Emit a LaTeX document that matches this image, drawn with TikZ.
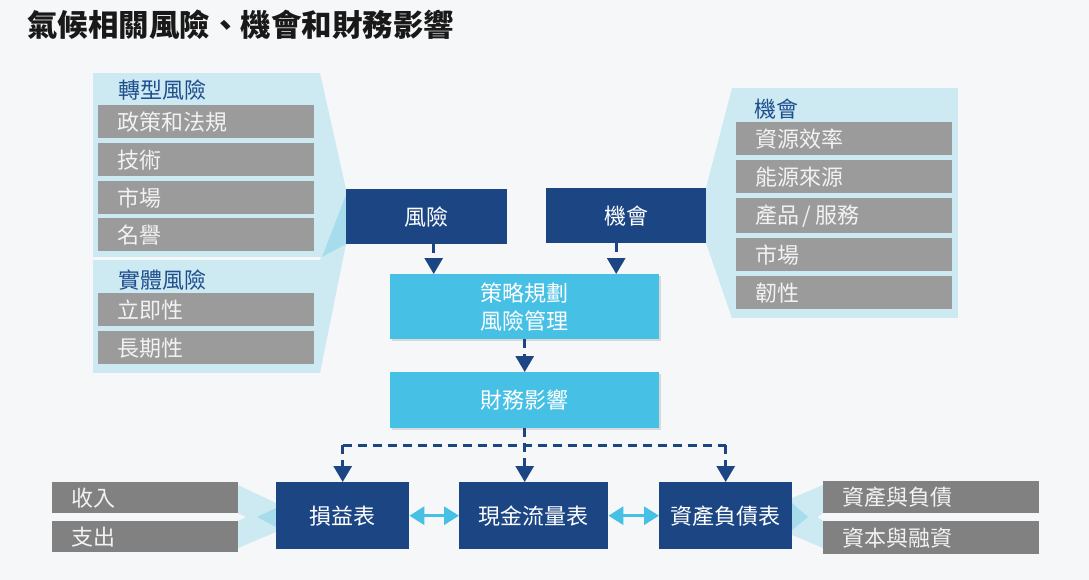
\documentclass[tikz,border=0pt]{standalone}
\usepackage{fontspec}
\setmainfont{Noto Sans CJK TC}
\usetikzlibrary{arrows.meta,shadows,calc}
\definecolor{bg}{HTML}{F6F7F9}
\definecolor{pale}{HTML}{CDEAF3}
\definecolor{paledk}{HTML}{A6DCEB}
\definecolor{navy}{HTML}{1C4584}
\definecolor{sky}{HTML}{46C0E5}
\definecolor{gbar}{HTML}{9B9B9B}
\definecolor{gbardk}{HTML}{808180}
\definecolor{lbl}{HTML}{1F4E8E}
\definecolor{btxt}{HTML}{F2F2F2}
\begin{document}
\begin{tikzpicture}[x=1pt,y=-1pt,
  every node/.style={font=\fontsize{22}{28}\selectfont},
  bar/.style={fill=gbar, text=btxt, anchor=north west, inner xsep=19pt, inner ysep=0pt,
    text width=178pt, minimum height=33pt, align=left},
  barb/.style={bar, fill=gbardk, text width=148pt},
  barc/.style={bar, fill=gbardk},
  tag/.style={text=lbl, anchor=west, inner sep=0pt},
  navybox/.style={fill=navy, text=white, anchor=north west, inner sep=0pt, align=center},
  skybox/.style={fill=sky, text=white, anchor=north west, inner sep=0pt, align=center,
    drop shadow={opacity=0.25, shadow xshift=2pt, shadow yshift=-2pt}},
  darr/.style={navy, line width=3pt, dash pattern=on 9pt off 6pt, -{Triangle[width=18pt,length=16pt]}},
  dline/.style={navy, line width=3pt, dash pattern=on 9pt off 6pt},
  carr/.style={sky, line width=3pt, {Triangle[width=18pt,length=15pt]}-{Triangle[width=18pt,length=15pt]}}
]
\fill[bg] (0,0) rectangle (1089,580);
\useasboundingbox (0,0) rectangle (1089,580);

% title
\node[anchor=west, inner sep=0pt, font=\fontsize{30.5}{36}\selectfont\bfseries, text=black!90] (title) at (27,25) {氣候相關風險、機會和財務影響};

% left panels and funnels
\fill[pale] (93,73) rectangle (320,257);
\fill[pale] (93,260) rectangle (320,373);
\fill[pale] (320,73) -- (346,189) -- (346,244) -- (322,257) -- (320,257) -- cycle;
\fill[pale] (320,260) -- (346,195) -- (346,244) -- (320,373) -- cycle;
\fill[paledk] (322,257) -- (346,195) -- (346,244) -- cycle;

% right panel and funnel
\fill[pale] (732,88) rectangle (958,318);
\fill[pale] (732,88) -- (706,188) -- (706,243) -- (732,318) -- cycle;

% bottom funnels
\fill[pale] (238,485) -- (276,503) -- (276,532) -- (238,513) -- cycle;
\fill[pale] (238,521) -- (276,503) -- (276,532) -- (238,548) -- cycle;
\fill[paledk] (257,517) -- (276,508) -- (276,527) -- cycle;
\fill[pale] (792,498) -- (823,485) -- (823,513) -- (792,535) -- cycle;
\fill[pale] (792,498) -- (823,521) -- (823,548) -- (792,535) -- cycle;
\fill[paledk] (792,503) -- (808,517) -- (792,530) -- cycle;

% left labels and bars
\node[tag] (tr) at (118,90) {轉型風險};
\node[bar] (l1) at (98,105) {政策和法規};
\node[bar] (l2) at (98,143) {技術};
\node[bar] (l3) at (98,181) {市場};
\node[bar] (l4) at (98,218) {名譽};
\node[tag] (ph) at (118,280) {實體風險};
\node[bar] (l5) at (98,293) {立即性};
\node[bar] (l6) at (98,331) {長期性};

% right labels and bars
\node[tag] (op) at (754,109) {機會};
\node[bar] (r1) at (736,122) {資源效率};
\node[bar] (r2) at (736,160) {能源來源};
\node[bar, minimum height=35pt] (r3) at (736,198) {產品\,/\,服務};
\node[bar] (r4) at (736,238) {市場};
\node[bar] (r5) at (736,276) {韌性};

% central boxes
\node[navybox, minimum width=161pt, minimum height=55pt] (risk) at (346,189) {風險};
\node[navybox, minimum width=160pt, minimum height=55pt] (opp) at (546,188) {機會};
\node[skybox, minimum width=269pt, minimum height=65pt] (plan) at (390,274) {策略規劃\\風險管理};
\node[skybox, minimum width=269pt, minimum height=56pt] (fin) at (390,372) {財務影響};

% bottom boxes
\node[navybox, minimum width=133pt, minimum height=67pt] (pl) at (276,482) {損益表};
\node[navybox, minimum width=149pt, minimum height=67pt] (cash) at (459,482) {現金流量表};
\node[navybox, minimum width=133pt, minimum height=67pt] (bs) at (659,482) {資產負債表};

% bottom bars
\node[barb, minimum height=31pt] (in) at (52,482) {收入};
\node[barb, minimum height=31pt] (out) at (52,521) {支出};
\node[barc, minimum height=32pt] (al) at (823,481) {資產與負債};
\node[barc, minimum height=33pt] (cf) at (823,521) {資本與融資};

% connectors
\draw[darr] ([xshift=7pt]risk.south) -- ([xshift=7pt]risk.south |- plan.north);
\draw[darr] ([xshift=-10pt]opp.south) -- ([xshift=-10pt]opp.south |- plan.north);
\draw[darr] (plan.south) -- (fin.north);
\coordinate (hl) at (0,445);
\draw[darr] (fin.south) -- (fin.south |- cash.north);
\draw[dline] (pl.north |- hl) -- (bs.north |- hl);
\draw[darr] (pl.north |- hl) -- (pl.north);
\draw[darr] (bs.north |- hl) -- (bs.north);
\draw[carr] (pl.east) -- (cash.west);
\draw[carr] (cash.east) -- (bs.west);
\end{tikzpicture}
\end{document}
